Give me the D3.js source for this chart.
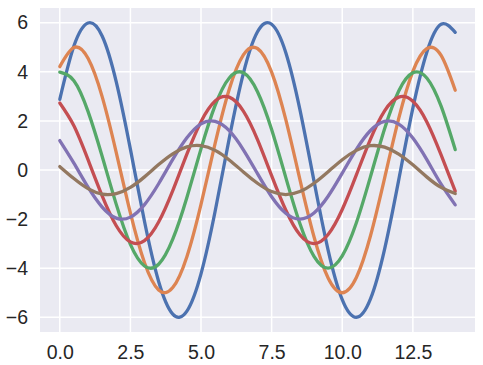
<!DOCTYPE html>
<html>
<head>
<meta charset="utf-8">
<script src="https://cdn.jsdelivr.net/npm/d3@7"></script>
<style>
  body { margin: 0; background: #fff; }
  text { font-family: "Liberation Sans", Arial, sans-serif; }
</style>
</head>
<body>
<div id="chart"></div>
<script>
// x positions (step 0.5 from 0 to 14)
const xs = [0, 0.5, 1, 1.5, 2, 2.5, 3, 3.5, 4, 4.5, 5, 5.5, 6, 6.5, 7, 7.5, 8, 8.5, 9, 9.5, 10, 10.5, 11, 11.5, 12, 12.5, 13, 13.5, 14];

// values, one array per line
const line1 = [2.88, 5.05, 5.99, 5.46, 3.59, 0.85, -2.10, -4.54, -5.87, -5.75, -4.23, -1.68, 1.29, 3.94, 5.63, 5.94, 4.79, 2.47, -0.45, -3.26, -5.28, -6.00, -5.25, -3.22, -0.40, 2.52, 4.82, 5.94, 5.61];
const line2 = [4.21, 4.99, 4.55, 2.99, 0.71, -1.75, -3.78, -4.89, -4.79, -3.53, -1.40, 1.08, 3.29, 4.69, 4.95, 3.99, 2.06, -0.38, -2.72, -4.40, -5.00, -4.38, -2.68, -0.33, 2.10, 4.02, 4.95, 4.67, 3.25];
const line3 = [3.99, 3.64, 2.39, 0.56, -1.40, -3.03, -3.91, -3.84, -2.82, -1.12, 0.86, 2.63, 3.75, 3.96, 3.19, 1.65, -0.30, -2.18, -3.52, -4.00, -3.50, -2.15, -0.27, 1.68, 3.22, 3.96, 3.74, 2.60, 0.83];
const line4 = [2.73, 1.80, 0.42, -1.05, -2.27, -2.93, -2.88, -2.12, -0.84, 0.65, 1.97, 2.81, 2.97, 2.40, 1.24, -0.23, -1.63, -2.64, -3.00, -2.63, -1.61, -0.20, 1.26, 2.41, 2.97, 2.80, 1.95, 0.62, -0.86];
const line5 = [1.20, 0.28, -0.70, -1.51, -1.96, -1.92, -1.41, -0.56, 0.43, 1.31, 1.88, 1.98, 1.60, 0.82, -0.15, -1.09, -1.76, -2.00, -1.75, -1.07, -0.13, 0.84, 1.61, 1.98, 1.87, 1.30, 0.41, -0.58, -1.42];
const line6 = [0.14, -0.35, -0.76, -0.98, -0.96, -0.71, -0.28, 0.22, 0.66, 0.94, 0.99, 0.80, 0.41, -0.08, -0.54, -0.88, -1.00, -0.88, -0.54, -0.07, 0.42, 0.80, 0.99, 0.93, 0.65, 0.21, -0.29, -0.71, -0.96];

const xTicks = [0, 2.5, 5, 7.5, 10, 12.5];
const yTicks = [-6, -4, -2, 0, 2, 4, 6];

const colors = ["#4C72B0", "#DD8452", "#55A868", "#C44E52", "#8172B3", "#937860"];

const W = 483, H = 365;
const margin = {top: 8, right: 8, bottom: 33, left: 40};
const w = W - margin.left - margin.right;
const h = H - margin.top - margin.bottom;

const svg = d3.select("#chart").append("svg")
  .attr("width", W)
  .attr("height", H);

const g = svg.append("g")
  .attr("transform", "translate(" + margin.left + "," + margin.top + ")");

// matplotlib style 5% margins
const x = d3.scaleLinear().domain([-0.7, 14.7]).range([0, w]);
const y = d3.scaleLinear().domain([-6.6, 6.6]).range([h, 0]);

g.append("rect")
  .attr("width", w)
  .attr("height", h)
  .attr("fill", "#EAEAF2");

// grid
g.selectAll(".vgrid").data(xTicks).enter().append("line")
  .attr("x1", d => x(d)).attr("x2", d => x(d))
  .attr("y1", 0).attr("y2", h)
  .attr("stroke", "#fff").attr("stroke-width", 1.5);
g.selectAll(".hgrid").data(yTicks).enter().append("line")
  .attr("y1", d => y(d)).attr("y2", d => y(d))
  .attr("x1", 0).attr("x2", w)
  .attr("stroke", "#fff").attr("stroke-width", 1.5);

const fmt = d => d3.format(".1f")(d);

const xAxis = g.append("g")
  .attr("transform", "translate(0," + h + ")")
  .call(d3.axisBottom(x).tickValues(xTicks).tickFormat(fmt).tickSize(0).tickPadding(13));
const yAxis = g.append("g")
  .call(d3.axisLeft(y).tickValues(yTicks).tickFormat(d => d < 0 ? "\u2212" + Math.abs(d) : d).tickSize(0).tickPadding(12));

[xAxis, yAxis].forEach(a => {
  a.select(".domain").remove();
  a.attr("font-size", 19.5).attr("font-family", "'Liberation Sans', Arial, sans-serif");
  a.selectAll("text")
    .attr("fill", "#262626");
});

const series = [line1, line2, line3, line4, line5, line6];

const line = d3.line()
  .x((d, i) => x(xs[i]))
  .y(d => y(d))
  .curve(d3.curveNatural);

series.forEach((s, i) => {
  g.append("path")
    .datum(s)
    .attr("d", line)
    .attr("fill", "none")
    .attr("stroke", colors[i])
    .attr("stroke-width", 3.3)
    .attr("stroke-linecap", "round");
});
</script>
</body>
</html>
